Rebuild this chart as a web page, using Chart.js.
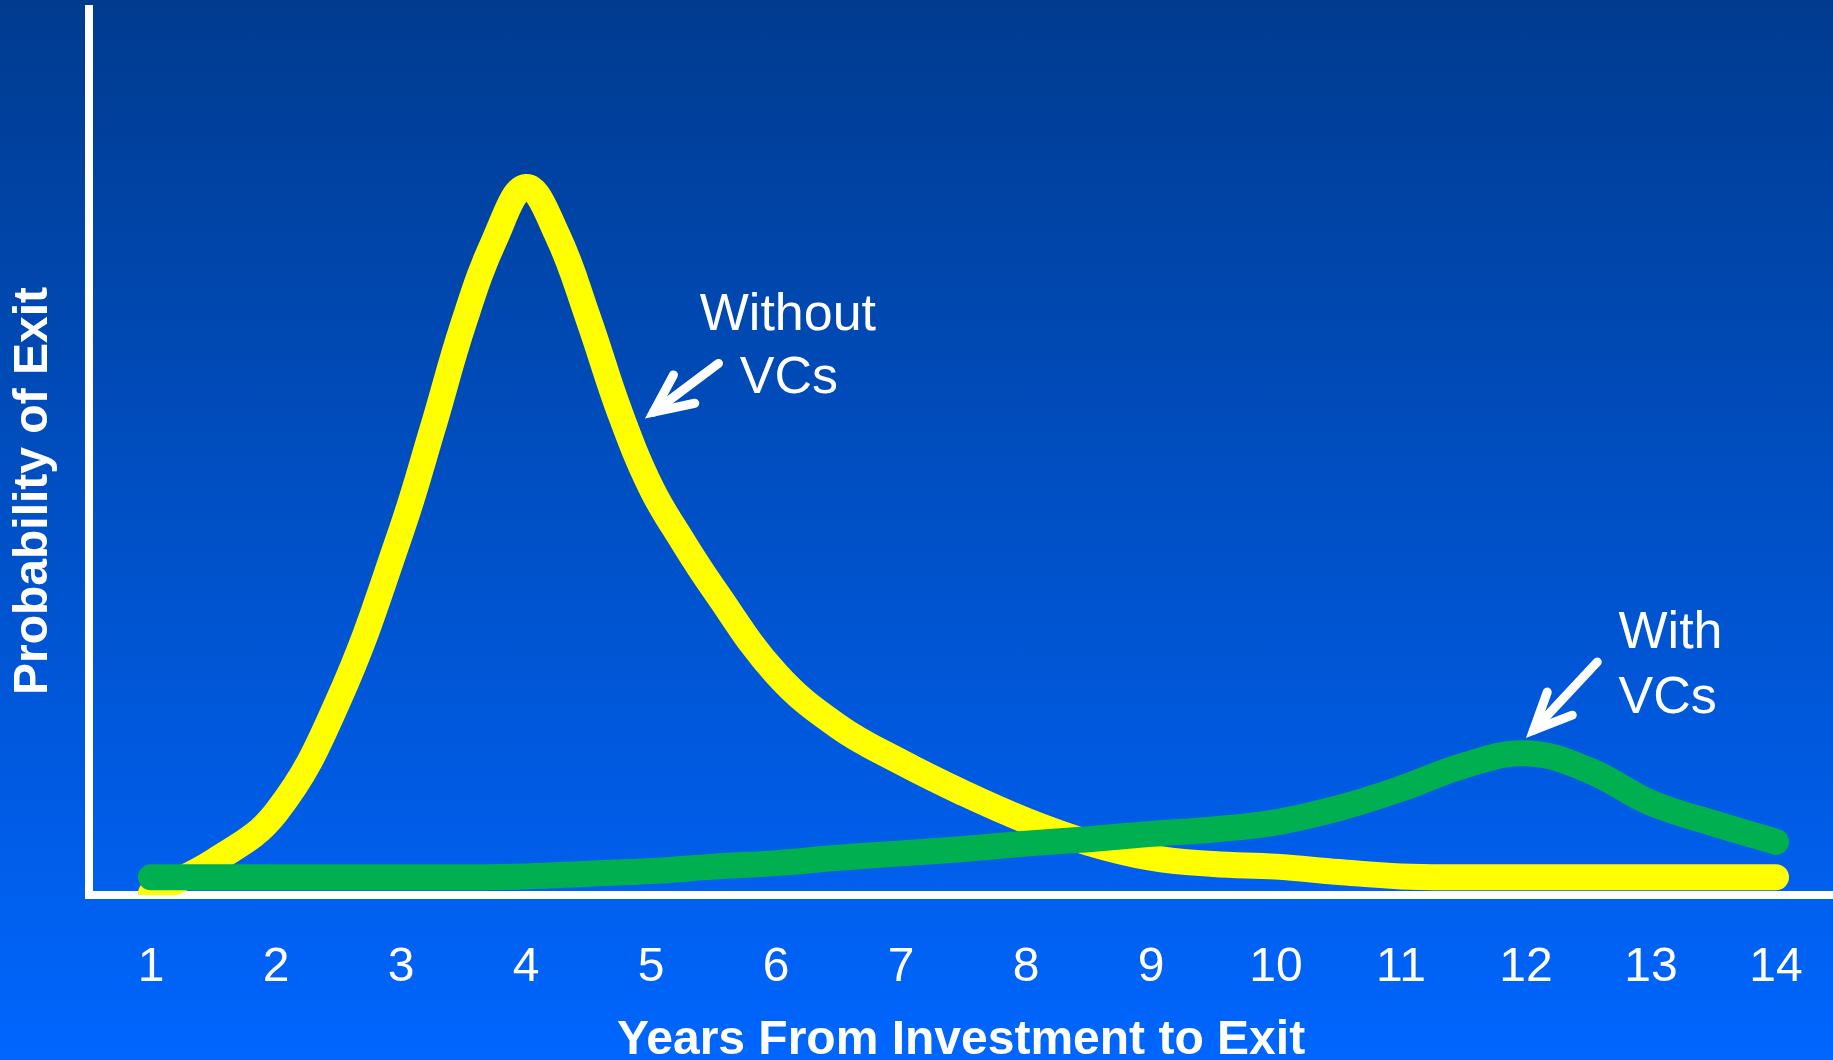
<!DOCTYPE html>
<html lang="en">

<head>
    <meta charset="UTF-8" />
    <title>Probability of Exit</title>
    <style>
        * {
            margin: 0;
            padding: 0;
        }

        html,
        body {
            width: 100%;
            height: 100%;
            overflow: hidden;
            background: linear-gradient(to bottom, #003b8f 0%, #0066ff 100%);
        }

        .chartBox {
            width: 1833px;
            height: 1060px;
        }
    </style>
</head>

<body>
    <div class="chartBox">
        <canvas id="myChart"></canvas>
    </div>
    <script src="https://cdn.jsdelivr.net/npm/chart.js@4/dist/chart.umd.min.js"></script>
    <script>
        const FONT = "'Liberation Sans', Arial, Helvetica, sans-serif";

        // denser around the peak
        const withoutYears = [1, 1.5, 2, 2.5, 3, 3.25, 3.5, 3.75, 4, 4.25, 4.5, 4.75, 5, 5.25, 5.5, 6, 6.5, 7, 7.5, 8, 8.5, 9, 9.5, 10, 10.5, 11, 11.5, 12, 13, 14];
        const withoutVCs = [0.2, 3.8, 9.3, 22.0, 41.0, 52.5, 64.5, 74.0, 79.9, 74.5, 65.0, 54.5, 46.0, 40.0, 34.6, 25.0, 19.0, 15.0, 11.5, 8.4, 5.9, 4.2, 3.5, 3.2, 2.6, 2.1, 2.0, 2.0, 2.0, 2.0];
        const withYears = [1, 2, 3, 3.5, 4, 4.5, 5, 5.5, 6, 6.5, 7, 7.5, 8, 8.5, 9, 9.5, 10, 10.5, 11, 11.5, 12, 12.5, 13, 13.5, 14];
        const withVCs = [2.0, 2.0, 2.0, 2.0, 2.1, 2.4, 2.7, 3.2, 3.6, 4.2, 4.7, 5.2, 5.8, 6.3, 6.9, 7.4, 8.2, 9.8, 12.0, 14.6, 16.0, 14.1, 10.4, 8.1, 6.0];
        const tickYears = [1, 2, 3, 4, 5, 6, 7, 8, 9, 10, 11, 12, 13, 14];

        const xTitle = "Years From Investment to Exit";
        const yTitle = "Probability of Exit";

        // callouts in data units: text lines and arrow (tail, tip, two barbs)
        const callouts = [
            {
                lines: [["Without", 5.39, 63.8], ["VCs", 5.71, 56.7]],
                arrow: [[5.54, 60.0], [5.02, 54.5], [5.18, 58.7], [5.35, 55.5]]
            },
            {
                lines: [["With", 12.74, 27.9], ["VCs", 12.74, 20.5]],
                arrow: [[12.57, 26.3], [12.06, 18.6], [12.17, 22.9], [12.37, 20.3]]
            }
        ];

        const toPoints = (xs, vals) => vals.map((v, i) => ({ x: xs[i], y: v }));

        const calloutPlugin = {
            id: "callouts",
            afterDraw(chart) {
                const ctx = chart.ctx;
                const xs = chart.scales.x;
                const ys = chart.scales.y;
                const px = (v) => xs.getPixelForValue(v);
                const py = (v) => ys.getPixelForValue(v);

                ctx.save();
                ctx.fillStyle = "#ffffff";
                ctx.strokeStyle = "#ffffff";
                ctx.font = "52px " + FONT;
                ctx.textAlign = "left";
                ctx.textBaseline = "alphabetic";
                callouts.forEach((c) => {
                    c.lines.forEach((l) => ctx.fillText(l[0], px(l[1]), py(l[2])));
                    const [tail, tip, b1, b2] = c.arrow;
                    ctx.lineWidth = 9;
                    ctx.lineCap = "round";
                    ctx.lineJoin = "miter";
                    ctx.beginPath();
                    ctx.moveTo(px(tail[0]), py(tail[1]));
                    ctx.lineTo(px(tip[0]), py(tip[1]));
                    ctx.stroke();
                    ctx.beginPath();
                    ctx.moveTo(px(b1[0]), py(b1[1]));
                    ctx.lineTo(px(tip[0]), py(tip[1]));
                    ctx.lineTo(px(b2[0]), py(b2[1]));
                    ctx.stroke();
                });

                // y axis title
                ctx.translate(chart.chartArea.left - 55, py(45.6));
                ctx.rotate(-Math.PI / 2);
                ctx.font = "bold 48px " + FONT;
                ctx.textAlign = "center";
                ctx.textBaseline = "middle";
                ctx.fillText(yTitle, 0, 0);
                ctx.restore();
            }
        };

        const lineStyle = {
            borderWidth: 26,
            borderCapStyle: "round",
            borderJoinStyle: "round",
            pointRadius: 0,
            tension: 0.4,
            clip: { left: 14, top: 14, right: 14, bottom: 0 }
        };

        const data = {
            datasets: [
                Object.assign({
                    label: "With VCs",
                    data: toPoints(withYears, withVCs),
                    borderColor: "#00b050"
                }, lineStyle),
                Object.assign({
                    label: "Without VCs",
                    data: toPoints(withoutYears, withoutVCs),
                    borderColor: "#ffff00"
                }, lineStyle)
            ]
        };

        const options = {
            responsive: true,
            maintainAspectRatio: false,
            animation: false,
            layout: {
                padding: { top: 9, left: 0, right: 0, bottom: 0 }
            },
            scales: {
                x: {
                    type: "linear",
                    min: 0.504,
                    max: 14.456,
                    afterFit: (scale) => {
                        scale.height = 165;
                        scale.paddingLeft = 0;
                        scale.paddingRight = 0;
                    },
                    afterBuildTicks: (scale) => {
                        scale.ticks = tickYears.map((v) => ({ value: v }));
                    },
                    grid: { display: false, drawTicks: false },
                    border: { display: true, color: "#ffffff", width: 8 },
                    ticks: {
                        color: "#ffffff",
                        padding: 44,
                        maxRotation: 0,
                        autoSkip: false,
                        font: { family: FONT, size: 48 },
                        callback: (v) => String(v)
                    },
                    title: {
                        display: true,
                        text: xTitle,
                        color: "#ffffff",
                        padding: { top: 0, bottom: -10 },
                        font: { family: FONT, size: 48, weight: "bold" }
                    }
                },
                y: {
                    min: 0,
                    max: 100,
                    afterFit: (scale) => {
                        scale.width = 89;
                        scale.paddingTop = 0;
                        scale.paddingBottom = 0;
                    },
                    grid: { display: false, drawTicks: false },
                    border: { display: true, color: "#ffffff", width: 8 },
                    ticks: { display: false }
                }
            },
            plugins: {
                legend: { display: false },
                tooltip: { enabled: false }
            }
        };

        const ctx = document.getElementById("myChart").getContext("2d");
        const myChart = new Chart(ctx, {
            type: "line",
            data: data,
            options: options,
            plugins: [calloutPlugin]
        });
    </script>
</body>

</html>
